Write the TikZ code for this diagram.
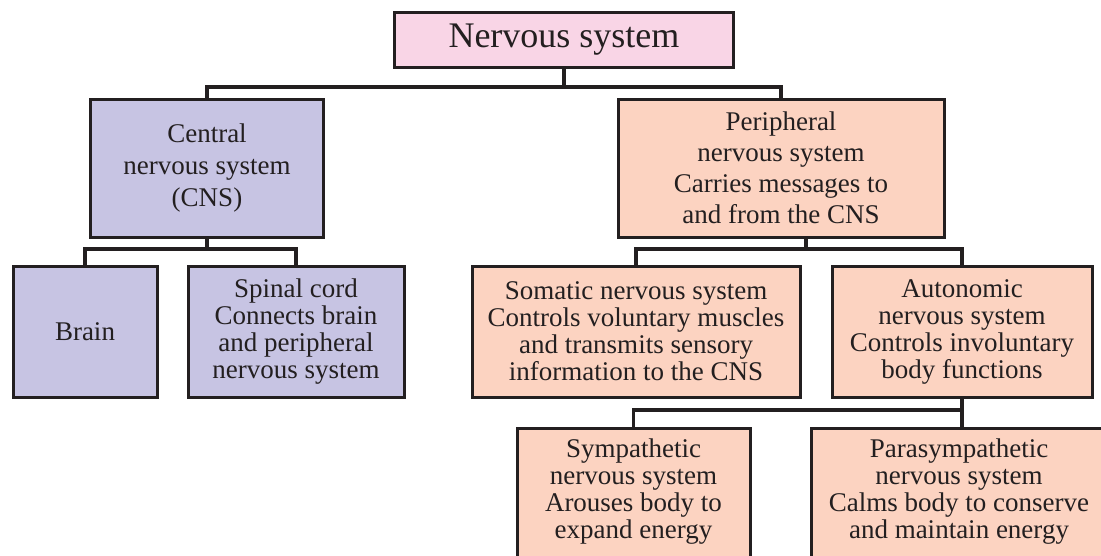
\documentclass[tikz,border=0pt]{standalone}
\usepackage{fontspec}
\setmainfont{Liberation Serif}
\definecolor{nspink}{RGB}{249,213,230}
\definecolor{cnsblue}{RGB}{199,196,227}
\definecolor{pnspeach}{RGB}{252,211,193}
\definecolor{ink}{RGB}{35,31,32}
\tikzset{every node/.style={draw=ink, line width=3pt, inner sep=0pt, align=center, text=ink, font=\fontsize{27}{27}\selectfont},
         link/.style={draw=ink, line width=3.4pt, line join=miter}}

\begin{document}
\begin{tikzpicture}[x=1pt,y=-1pt]
  \clip (0,0) rectangle (1101,555);
  \node[fill=nspink, minimum width=339, minimum height=55, font=\fontsize{36}{36}\selectfont] (ns) at (564,39.5) {Nervous system};
  \begin{scope}
   \node[fill=cnsblue, minimum width=233, minimum height=138, font=\fontsize{27}{32}\selectfont] (cns) at (207,168) {Central\\nervous system\\(CNS)};
   \node[fill=cnsblue, minimum width=144, minimum height=131] (brain) at (85,331.5) {Brain};
   \node[fill=cnsblue, minimum width=216, minimum height=131] (spinal) at (296,331.5) {Spinal cord\\Connects brain\\and peripheral\\nervous system};
  \end{scope}
  \begin{scope}
   \node[fill=pnspeach, minimum width=326, minimum height=138, font=\fontsize{27}{31}\selectfont] (pns) at (781,168) {Peripheral\\nervous system\\Carries messages to\\and from the CNS};
   \node[fill=pnspeach, minimum width=328, minimum height=131] (somatic) at (636,331.5) {Somatic nervous system\\Controls voluntary muscles\\and transmits sensory\\information to the CNS};
   \node[fill=pnspeach, minimum width=260, minimum height=131] (auto) at (962,331.5) {Autonomic\\nervous system\\Controls involuntary\\body functions};
   \node[fill=pnspeach, minimum width=233, minimum height=134] (symp) at (633.5,495) {Sympathetic\\nervous system\\Arouses body to\\expand energy\\[-15pt]\mbox{}};
   \node[fill=pnspeach, minimum width=296, minimum height=134] (para) at (959,495) {Parasympathetic\\nervous system\\Calms body to conserve\\and maintain energy\\[-15pt]\mbox{}};
  \end{scope}
  \coordinate (nsj) at (564,87);
  \coordinate (cnsj) at (207,249);
  \coordinate (pnsj) at (806,249);
  \coordinate (autoj) at (962,410);
  \draw[link] (ns.south) -- (nsj);
  \draw[link] (cns.north) |- (nsj) -| (pns.north);
  \draw[link] (cns.south) -- (cnsj);
  \draw[link] (brain.north) |- (cnsj) -| (spinal.north);
  \draw[link] (pnsj |- pns.south) -- (pnsj);
  \draw[link] (somatic.north) |- (pnsj) -| (auto.north);
  \draw[link] (auto.south) -- (auto.south |- para.north);
  \draw[link] (symp.north) |- (autoj);
\end{tikzpicture}
\end{document}
